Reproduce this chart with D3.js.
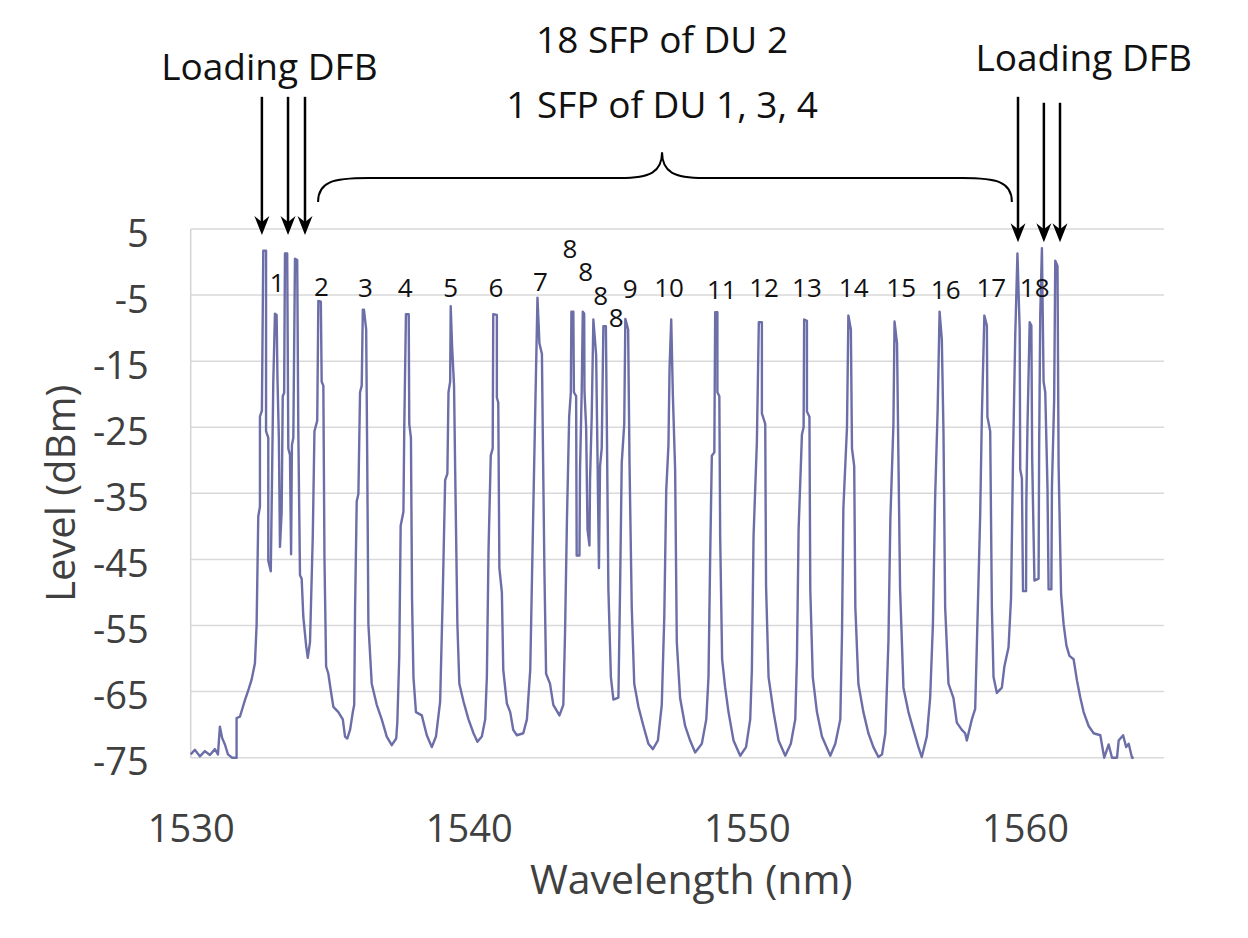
<!DOCTYPE html>
<html>
<head>
<meta charset="utf-8">
<script src="https://cdn.jsdelivr.net/npm/d3@7"></script>
<style>
body{margin:0;background:#fff;}
text{font-family:"Open Sans",sans-serif;}
</style>
</head>
<body>
<div id="chart"></div>
<script>
// axis ticks
var xTicks = [1530, 1540, 1550, 1560];
var yTicks = [5, -5, -15, -25, -35, -45, -55, -65, -75];

// spectrum: [wavelength nm, level dBm]
// noise floor, loading DFBs 1-3 with SFP "1", then channel 2 and 3
var spectrumLeft = [
  [1530.00,-74.5],[1530.15,-73.8],[1530.33,-74.8],[1530.51,-74.0],[1530.69,-74.6],[1530.87,-73.7],
  [1530.98,-74.5],[1531.05,-70.3],[1531.13,-72.0],[1531.23,-73.0],[1531.34,-74.5],[1531.49,-75],[1531.65,-75],
  [1531.65,-69.0],[1531.77,-68.8],[1531.95,-66.3],[1532.07,-64.8],[1532.19,-63.2],[1532.31,-60.7],
  [1532.37,-54.9],[1532.43,-38.5],[1532.49,-37.0],[1532.49,-23.4],[1532.56,-22.5],[1532.61,1.7],
  [1532.71,1.7],[1532.71,-25.6],[1532.79,-26.6],[1532.79,-45.2],[1532.88,-46.8],[1532.91,-37.3],
  [1532.97,-18.1],[1533.03,-7.8],[1533.09,-8.0],[1533.12,-17.6],[1533.17,-26.6],[1533.21,-43.1],
  [1533.27,-37.8],[1533.31,-20.3],[1533.36,-19.8],[1533.39,1.3],[1533.47,1.3],[1533.51,-28.2],
  [1533.57,-29.2],[1533.61,-44.2],[1533.64,-27.7],[1533.69,-26.6],[1533.75,0.5],[1533.83,0.3],
  [1533.87,-25.6],[1533.93,-47.4],[1533.99,-47.9],[1534.05,-53.7],[1534.15,-58.0],[1534.21,-59.9],
  [1534.29,-57.5],[1534.39,-41.5],[1534.45,-25.6],[1534.55,-24.0],[1534.59,-5.9],[1534.68,-6.0],
  [1534.71,-18.1],[1534.77,-18.7],[1534.81,-44.7],[1534.87,-61.2],[1534.95,-62.3],[1535.04,-64.9],
  [1535.13,-67.3],[1535.31,-68.1],[1535.47,-69.2],[1535.55,-71.8],[1535.63,-72.1],[1535.73,-70.8],
  [1535.83,-68.1],[1535.88,-67.0],[1535.91,-52.7],[1535.97,-36.2],[1536.03,-35.1],[1536.09,-19.7],
  [1536.15,-18.7],[1536.19,-7.2],[1536.23,-7.2],[1536.31,-10.2],[1536.35,-30.9],[1536.39,-54.8],
  [1536.51,-63.8],[1536.69,-67.0],[1536.87,-69.2],[1537.05,-71.8],[1537.23,-73.1],[1537.39,-72.1]
];

// channels 4 to 10, including the four "8" lines
var spectrumMid = [
  [1537.43,-69.7],[1537.50,-59.6],[1537.55,-39.9],[1537.65,-37.8],[1537.68,-25.0],[1537.74,-7.9],
  [1537.84,-7.9],[1537.86,-24.5],[1537.92,-26.6],[1537.96,-51.1],[1538.01,-62.8],[1538.10,-68.1],
  [1538.31,-68.6],[1538.49,-71.6],[1538.67,-73.4],[1538.82,-71.8],[1538.97,-66.5],[1539.06,-51.1],
  [1539.15,-33.0],[1539.23,-32.0],[1539.27,-19.7],[1539.33,-18.1],[1539.35,-6.7],[1539.40,-12.8],
  [1539.47,-18.7],[1539.51,-31.4],[1539.59,-54.8],[1539.66,-63.8],[1539.81,-66.5],[1539.99,-69.2],
  [1540.17,-71.3],[1540.31,-72.6],[1540.47,-71.8],[1540.59,-69.2],[1540.65,-62.8],[1540.71,-43.6],
  [1540.79,-29.3],[1540.86,-28.2],[1540.88,-7.9],[1541.01,-8.0],[1541.01,-20.5],[1541.06,-21.3],
  [1541.10,-46.3],[1541.19,-50.0],[1541.24,-61.7],[1541.37,-66.8],[1541.49,-68.1],[1541.60,-70.8],
  [1541.73,-71.6],[1541.96,-71.3],[1542.09,-69.2],[1542.21,-61.7],[1542.27,-48.4],[1542.35,-30.9],
  [1542.42,-16.0],[1542.47,-5.4],[1542.54,-12.3],[1542.63,-13.9],[1542.66,-25.6],[1542.72,-46.8],
  [1542.78,-62.3],[1542.92,-63.8],[1543.04,-67.0],[1543.26,-68.6],[1543.40,-67.0],[1543.46,-56.4],
  [1543.53,-38.9],[1543.61,-23.4],[1543.67,-19.7],[1543.69,-7.5],[1543.76,-7.5],[1543.78,-19.7],
  [1543.86,-20.3],[1543.88,-44.4],[1543.98,-44.4],[1544.00,-31.4],[1544.06,-19.7],[1544.10,-7.5],
  [1544.15,-7.8],[1544.16,-19.5],[1544.22,-25.0],[1544.27,-40.5],[1544.34,-42.9],[1544.36,-33.0],
  [1544.42,-23.4],[1544.48,-8.7],[1544.58,-14.1],[1544.63,-29.8],[1544.68,-46.3],[1544.72,-30.9],
  [1544.78,-28.2],[1544.84,-9.7],[1544.93,-9.7],[1544.96,-22.6],[1545.02,-49.5],[1545.11,-62.8],
  [1545.20,-66.2],[1545.38,-65.9],[1545.44,-49.5],[1545.50,-30.4],[1545.59,-24.5],[1545.63,-8.6],
  [1545.73,-10.2],[1545.78,-30.4],[1545.86,-52.2],[1545.95,-63.8],[1546.10,-67.3],[1546.28,-70.2],
  [1546.46,-72.9],[1546.62,-73.7],[1546.80,-72.4],[1546.94,-67.0],[1547.03,-53.7],[1547.10,-34.6],
  [1547.18,-27.7],[1547.22,-16.0],[1547.28,-8.7],[1547.34,-20.3],[1547.42,-31.4],[1547.48,-57.5],
  [1547.60,-66.0],[1547.78,-70.2],[1547.96,-72.4],[1548.14,-74.2]
];

// channels 11 to 18, loading DFBs 4-6 and the right noise floor
var spectrumRight = [
  [1548.38,-72.9],[1548.54,-69.2],[1548.62,-62.8],[1548.68,-44.7],[1548.74,-29.3],[1548.83,-28.8],
  [1548.86,-7.6],[1548.94,-7.6],[1548.94,-19.7],[1549.01,-20.3],[1549.04,-41.5],[1549.11,-60.1],
  [1549.22,-64.4],[1549.34,-68.1],[1549.52,-72.4],[1549.76,-74.7],[1549.97,-73.4],[1550.12,-69.2],
  [1550.18,-61.7],[1550.24,-41.5],[1550.36,-27.2],[1550.43,-9.1],[1550.54,-9.1],[1550.54,-22.9],
  [1550.66,-24.5],[1550.69,-49.0],[1550.78,-62.8],[1550.96,-68.1],[1551.14,-72.4],[1551.38,-74.7],
  [1551.58,-72.9],[1551.74,-69.2],[1551.80,-60.1],[1551.86,-40.5],[1551.98,-26.1],[1552.04,-25.0],
  [1552.06,-8.7],[1552.16,-8.9],[1552.16,-22.6],[1552.25,-23.4],[1552.28,-49.5],[1552.37,-62.8],
  [1552.52,-68.1],[1552.70,-71.8],[1553.00,-74.7],[1553.18,-72.9],[1553.36,-69.2],[1553.42,-56.4],
  [1553.47,-37.3],[1553.60,-25.0],[1553.65,-8.1],[1553.74,-10.2],[1553.78,-28.2],[1553.86,-30.9],
  [1553.90,-52.2],[1554.01,-63.8],[1554.19,-68.1],[1554.37,-71.3],[1554.55,-73.4],[1554.73,-74.9],
  [1554.86,-74.5],[1554.98,-71.3],[1555.09,-57.5],[1555.16,-38.9],[1555.27,-24.5],[1555.31,-9.0],
  [1555.40,-12.3],[1555.45,-29.8],[1555.51,-49.5],[1555.63,-64.4],[1555.81,-68.1],[1555.99,-70.8],
  [1556.17,-73.4],[1556.29,-74.9],[1556.47,-71.8],[1556.59,-66.0],[1556.69,-54.8],[1556.77,-35.7],
  [1556.86,-22.4],[1556.93,-7.5],[1557.01,-11.7],[1557.07,-25.6],[1557.13,-52.2],[1557.25,-63.8],
  [1557.43,-66.0],[1557.55,-69.7],[1557.73,-70.8],[1557.85,-71.3],[1557.91,-72.4],[1558.09,-69.2],
  [1558.21,-67.6],[1558.27,-58.0],[1558.39,-38.3],[1558.45,-23.4],[1558.54,-8.1],[1558.63,-9.6],
  [1558.65,-23.4],[1558.75,-25.6],[1558.81,-52.2],[1558.87,-62.8],[1558.99,-65.2],[1559.17,-64.4],
  [1559.26,-61.2],[1559.41,-58.3],[1559.50,-50.8],[1559.57,-29.8],[1559.65,-11.2],[1559.73,1.3],
  [1559.81,-10.2],[1559.83,-31.4],[1559.89,-32.7],[1559.93,-49.8],[1560.04,-49.8],[1560.05,-36.2],
  [1560.09,-25.0],[1560.17,-9.1],[1560.23,-9.6],[1560.26,-29.8],[1560.34,-48.2],[1560.49,-47.9],
  [1560.51,-28.2],[1560.55,-8.0],[1560.61,2.1],[1560.67,-18.1],[1560.73,-19.7],[1560.81,-34.1],
  [1560.85,-49.5],[1560.95,-49.5],[1560.97,-34.1],[1561.05,-20.8],[1561.09,0.2],[1561.17,-0.6],
  [1561.21,-30.9],[1561.30,-50.3],[1561.39,-54.8],[1561.49,-58.0],[1561.60,-59.6],[1561.75,-60.1],
  [1561.87,-63.3],[1561.99,-65.9],[1562.11,-68.1],[1562.29,-70.2],[1562.47,-71.3],[1562.71,-71.6],
  [1562.85,-75],[1563.01,-73.0],[1563.13,-75],[1563.31,-75],[1563.37,-72.4],[1563.53,-71.6],
  [1563.64,-73.4],[1563.73,-72.9],[1563.85,-75],[1563.91,-75]
];

// channel numbers: [text, wavelength, level]
var peakLabels = [
  ['1',1533.11,-3.2],['2',1534.70,-3.8],['3',1536.28,-3.9],['4',1537.71,-3.9],['5',1539.35,-3.9],
  ['6',1540.98,-3.9],['7',1542.58,-3.0],['8',1543.64,2.0],['8',1544.20,-1.5],['8',1544.74,-5.1],
  ['8',1545.30,-8.5],['9',1545.80,-4.1],['10',1547.20,-3.9],['11',1549.10,-4.2],['12',1550.62,-3.9],
  ['13',1552.16,-3.9],['14',1553.84,-3.9],['15',1555.55,-3.9],['16',1557.15,-4.2],['17',1558.79,-3.9],
  ['18',1560.35,-3.9]
];

// loading DFB arrows: [wavelength, top level, tip level]
var dfbArrows = [
  [1532.56,25.0,4.1],[1533.50,25.0,4.1],[1534.11,25.0,4.1],
  [1559.75,25.0,3.0],[1560.68,24.1,3.0],[1561.26,24.1,3.0]
];

// annotation texts: [text, wavelength, baseline level]
var notes = [
  ['Loading DFB',1532.83,27.5],
  ['Loading DFB',1562.11,28.9],
  ['18 SFP of DU 2',1546.95,31.6],
  ['1 SFP of DU 1, 3, 4',1546.95,21.8]
];

// curly brace over the SFP channels
var braceWl = [1534.58, 1546.95, 1559.53];   // left end, tip, right end
var braceLev = [9.1, 12.7, 16.6];             // ends, straight part, tip

var W = 1248, H = 938;

var x = d3.scaleLinear().domain([1530, 1565]).range([190.7, 1164]);
var y = d3.scaleLinear().domain([-75, 5]).range([757.7, 229]);

var svg = d3.select('#chart')
    .append('svg')
    .attr('width', W)
    .attr('height', H)
    .style('background', '#fff');

// gridlines
svg.append('g').attr('class','grid')
    .selectAll('line')
    .data(yTicks)
    .enter()
    .append('line')
    .attr('x1', x(1530)).attr('x2', x(1565))
    .attr('y1', function(d){return y(d)})
    .attr('y2', function(d){return y(d)})
    .style('stroke', '#d9d9d9')
    .style('stroke-width', '1.5px');

svg.append('line')
    .attr('x1', x(1530)).attr('x2', x(1530))
    .attr('y1', y(5)).attr('y2', y(-75))
    .style('stroke', '#d4d4d8')
    .style('stroke-width', '1.5px');

// axes (plain hyphen for negatives, as in the figure)
var plain = function(d){return String(d)};

var yAxis = svg.append('g')
    .attr('transform', 'translate(' + x(1530) + ',0)')
    .call(d3.axisLeft(y).tickValues(yTicks).tickSize(0).tickPadding(42).tickFormat(plain));
yAxis.select('.domain').remove();
yAxis.selectAll('text')
    .attr('y', 5)
    .style('font-family', '"Open Sans", sans-serif')
    .style('font-size', '38px')
    .style('fill', '#404040');

var xAxis = svg.append('g')
    .attr('transform', 'translate(0,' + y(-75) + ')')
    .call(d3.axisBottom(x).tickValues(xTicks).tickSize(0).tickPadding(57).tickFormat(plain));
xAxis.select('.domain').remove();
xAxis.selectAll('text')
    .style('font-family', '"Open Sans", sans-serif')
    .style('font-size', '38px')
    .style('fill', '#404040');

// axis titles
svg.append('text')
    .attr('transform', 'translate(75,' + y(-35) + ') rotate(-90)')
    .attr('text-anchor', 'middle')
    .style('font-size', '40px')
    .style('fill', '#404040')
    .text('Level (dBm)');

svg.append('text')
    .attr('x', x(1548.0))
    .attr('y', 894)
    .attr('text-anchor', 'middle')
    .style('font-size', '41px')
    .style('fill', '#404040')
    .text('Wavelength (nm)');

// spectrum trace
var spectrum = spectrumLeft.concat(spectrumMid, spectrumRight);
var line = d3.line()
    .x(function(d){return x(d[0])})
    .y(function(d){return y(d[1])});

svg.append('path')
    .datum(spectrum)
    .attr('d', line)
    .style('fill', 'none')
    .style('stroke', '#6b6ea7')
    .style('stroke-width', '2.4px')
    .style('stroke-linejoin', 'round');

// channel labels
svg.append('g').selectAll('text')
    .data(peakLabels)
    .enter()
    .append('text')
    .attr('x', function(d){return x(d[1])})
    .attr('y', function(d){return y(d[2])})
    .attr('dy', '0.35em')
    .attr('text-anchor', 'middle')
    .style('font-size', '26px')
    .style('fill', '#111')
    .text(function(d){return d[0]});

// arrows
var arrows = svg.append('g').selectAll('g')
    .data(dfbArrows)
    .enter()
    .append('g');
arrows.append('line')
    .attr('x1', function(d){return x(d[0])})
    .attr('x2', function(d){return x(d[0])})
    .attr('y1', function(d){return y(d[1])})
    .attr('y2', function(d){return y(d[2]) - 10})
    .style('stroke', '#000')
    .style('stroke-width', '2.5px');
arrows.append('path')
    .attr('d', function(d){
        var ax = x(d[0]), ay = y(d[2]);
        return 'M' + (ax - 7.5) + ',' + (ay - 19) + 'L' + ax + ',' + ay +
               'L' + (ax + 7.5) + ',' + (ay - 19) + 'L' + ax + ',' + (ay - 13) + 'Z';
    })
    .style('fill', '#000');

// brace
var bx0 = x(braceWl[0]), bxc = x(braceWl[1]), bx1 = x(braceWl[2]);
var byEnd = y(braceLev[0]), byLine = y(braceLev[1]), byTip = y(braceLev[2]);
var braceD = 'M' + bx0 + ',' + byEnd +
    'C' + bx0 + ',' + (byLine + 4) + ' ' + (bx0 + 14) + ',' + byLine + ' ' + (bx0 + 50) + ',' + byLine +
    'L' + (bxc - 42) + ',' + byLine +
    'C' + (bxc - 12) + ',' + byLine + ' ' + bxc + ',' + (byLine - 6) + ' ' + bxc + ',' + byTip +
    'C' + bxc + ',' + (byLine - 6) + ' ' + (bxc + 12) + ',' + byLine + ' ' + (bxc + 42) + ',' + byLine +
    'L' + (bx1 - 50) + ',' + byLine +
    'C' + (bx1 - 14) + ',' + byLine + ' ' + bx1 + ',' + (byLine + 4) + ' ' + bx1 + ',' + byEnd;
svg.append('path')
    .attr('d', braceD)
    .style('fill', 'none')
    .style('stroke', '#000')
    .style('stroke-width', '2px');

// annotation texts
svg.append('g').selectAll('text')
    .data(notes)
    .enter()
    .append('text')
    .attr('x', function(d){return x(d[1])})
    .attr('y', function(d){return y(d[2])})
    .attr('text-anchor', 'middle')
    .style('font-size', '37px')
    .style('fill', '#111')
    .text(function(d){return d[0]});
</script>
</body>
</html>
